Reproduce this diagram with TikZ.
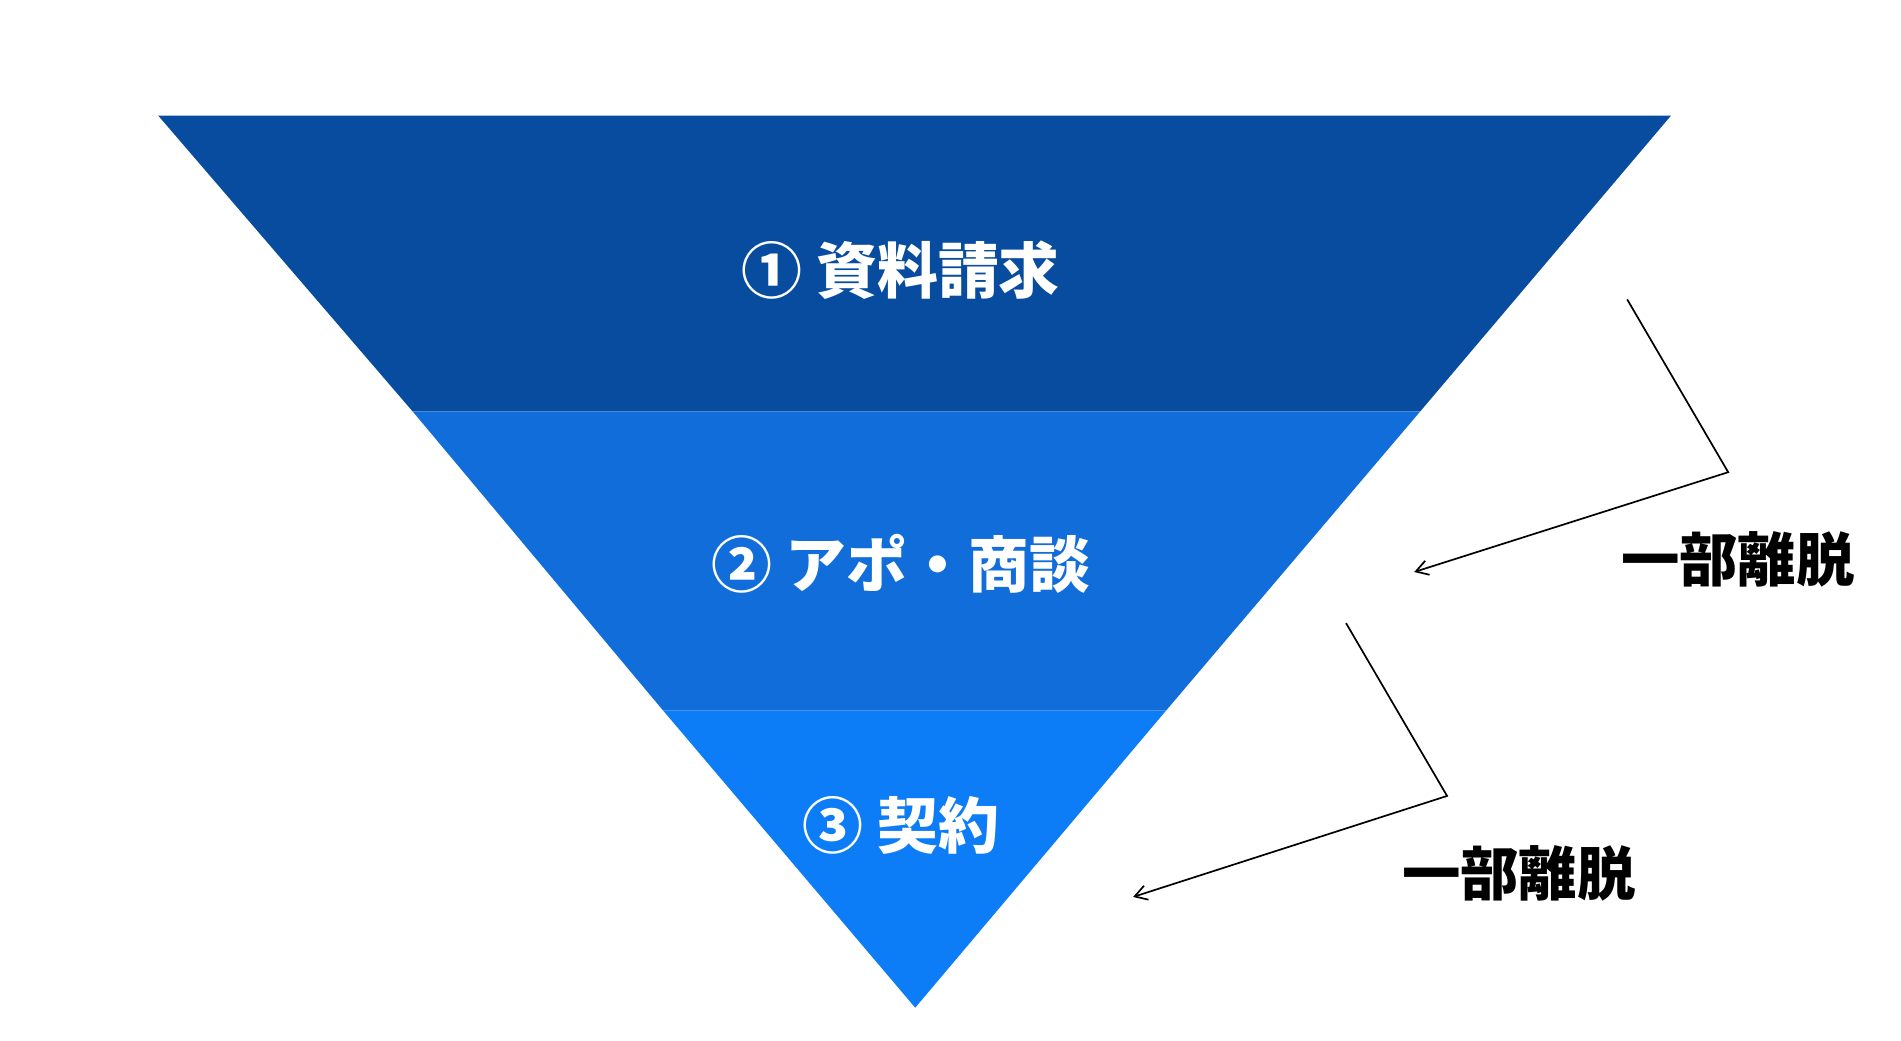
\documentclass[tikz,border=0pt]{standalone}
\usepackage{fontspec}
\newfontfamily\cjk{Noto Sans CJK JP}
\usetikzlibrary{positioning,arrows.meta}
\definecolor{bandA}{HTML}{074C9E}
\definecolor{bandB}{HTML}{116DD9}
\definecolor{bandC}{HTML}{0D7DF7}
\tikzset{
    stage/.style={text=white, font=\cjk\bfseries\fontsize{25}{30}\selectfont},
    loss/.style={text=black, font=\cjk\bfseries\fontsize{24}{28}\selectfont},
    leave/.style={-{Straight Barb[length=5pt,width=6pt]}, line width=0.7pt},
}
\begin{document}
\begin{tikzpicture}[x=0.5pt,y=-0.5pt]
\useasboundingbox (0,0) rectangle (1562,855);
% funnel bands
\fill[bandA] (130,95) -- (1373,95) -- (1167,338) -- (339,338) -- cycle;
\fill[bandB] (339,338) -- (1167,338) -- (958,584) -- (545,584) -- cycle;
\fill[bandC] (545,584) -- (958,584) -- (752,828) -- cycle;

\node[stage] (s1) at (740,222) {① 資料請求};
\node[stage] (s2) at (740,463) {② アポ・商談};
\node[stage] (s3) at (740,678) {③ 契約};

\node[loss] (l1) at (1428,460) {一部離脱};
\node[loss] (l2) at (1248,718) {一部離脱};

\coordinate (a1) at (1337,246);
\coordinate (b1) at (1420,388);
\coordinate (c1) at (1162,470);
\coordinate (a2) at (1106,512);
\coordinate (b2) at (1189,654);
\coordinate (c2) at (931,737);
\draw[leave] (a1) -- (b1) -- (c1);
\draw[leave] (a2) -- (b2) -- (c2);
\end{tikzpicture}
\end{document}
